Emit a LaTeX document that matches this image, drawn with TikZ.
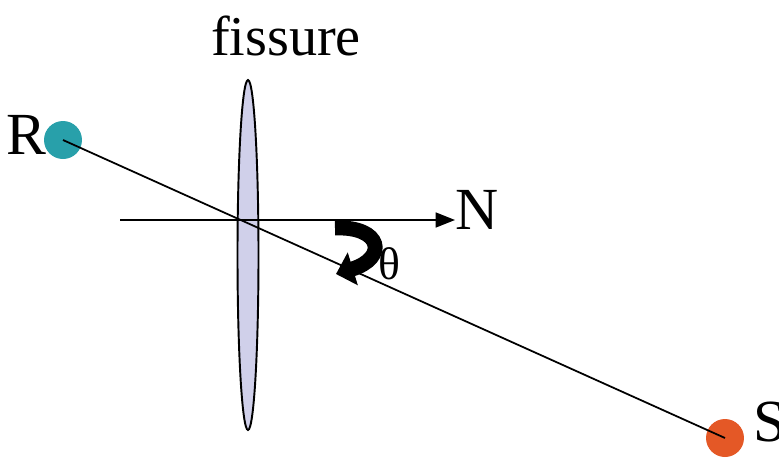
\documentclass[tikz,border=0pt]{standalone}
\usepackage{fontspec}
\setmainfont{Liberation Serif}
\usetikzlibrary{arrows.meta,positioning,shapes.geometric}
\definecolor{rcol}{RGB}{40,160,170}
\definecolor{scol}{RGB}{228,88,38}
\definecolor{fiscol}{RGB}{208,208,234}

\begin{document}
\begin{tikzpicture}[
  x=0.02cm, y=-0.02cm,
  font=\fontsize{34}{40}\selectfont,
  >={Triangle[length=11pt,width=8.5pt]},
  dot/.style={circle, inner sep=0pt, minimum size=0.76cm},
  lbl/.style={inner sep=0pt},
  ray/.style={line width=1pt},
  turn/.style={line width=8.5pt, -{Triangle[length=10pt,width=19pt]}}
]
  \useasboundingbox (0,0) rectangle (779,458);
  % fissure
  \node[draw, ellipse, line width=1.1pt, fill=fiscol,
        minimum width=0.42cm, minimum height=7cm] (fis) at (248,255) {};
  \node[lbl, anchor=base, font=\fontsize{32}{36}\selectfont] (fistext) at (286,55) {fissure};
  % receiver and source
  \node[dot, fill=rcol] (rdot) at (63,140) {};
  \node[dot, fill=scol] (sdot) at (725,438) {};
  \node[lbl, left=-2pt of rdot, yshift=3pt] (rlab) {R};
  \node[lbl, right=5pt of sdot, yshift=9pt] (slab) {S};
  % normal
  \coordinate (nstart) at (120,220);
  \node[lbl, anchor=base west] (nlab) at (455,229) {N};
  \draw[ray,->] (nstart) -- (nstart -| nlab.west);
  \draw[ray] (rdot.center) -- (sdot.center);
  % angle
  \coordinate (t0) at (335,228);
  \coordinate (t1) at (336,274);
  \draw[turn] (t0) .. controls (382,226) and (388,258) .. (t1);
  \node[lbl, font=\fontsize{26}{30}\selectfont] (theta) at (389,264) {θ};
\end{tikzpicture}
\end{document}
